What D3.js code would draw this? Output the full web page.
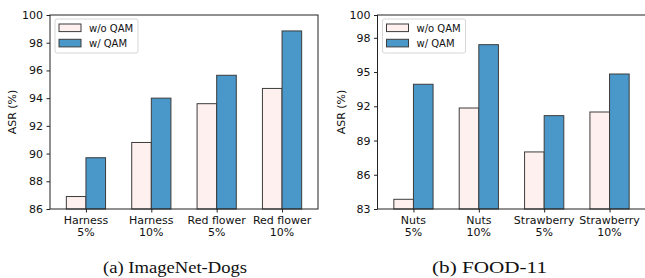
<!DOCTYPE html>
<html><head><meta charset="utf-8">
<script src="https://cdn.jsdelivr.net/npm/d3@7"></script>
<style>body{margin:0;background:#fff}svg{display:block}</style>
</head><body>
<svg id="c" width="645" height="278"></svg>
<script>
const seriesNames = ["w/o QAM", "w/ QAM"];
const catsA = [["Harness","5%"],["Harness","10%"],["Red flower","5%"],["Red flower","10%"]];
const woA = [86.9, 90.8, 93.6, 94.7];
const wA  = [89.7, 94.0, 95.65, 98.85];
const ticksA = [86, 88, 90, 92, 94, 96, 98, 100];
const catsB = [["Nuts","5%"],["Nuts","10%"],["Strawberry","5%"],["Strawberry","10%"]];
const woB = [83.85, 91.85, 88.0, 91.5];
const wB  = [93.93, 97.4, 91.18, 94.83];
const ticksB = [83, 86, 89, 92, 95, 98, 100];
const captions = ["(a) ImageNet-Dogs", "(b) FOOD-11"];

const colors = ["#fef0ee", "#4a97c9"];
const svg = d3.select("#c");
const font = "DejaVu Sans, sans-serif";

function panel(x0, x1, cats, wo, w, ticks, ymin, caption, capX, capW, labelX) {
  const top = 15, bottom = 209;
  const g = svg.append("g");
  const x = d3.scaleLinear().domain([-0.55, 3.55]).range([x0, x1]);
  const y = d3.scaleLinear().domain([ymin, 100]).range([bottom, top]);
  const bw = 0.3;
  const data = [wo, w];
  data.forEach((vals, s) => {
    g.selectAll(null).data(vals).enter().append("rect")
      .attr("x", (d, i) => x(i + (s === 0 ? -bw : 0)))
      .attr("width", x(bw) - x(0))
      .attr("y", d => y(d))
      .attr("height", d => y(ymin) - y(d))
      .attr("fill", colors[s])
      .attr("stroke", "#3c3c3c").attr("stroke-width", 1);
  });
  const ya = g.append("g").attr("transform", `translate(${x0},0)`)
    .call(d3.axisLeft(y).tickValues(ticks).tickSize(3.5).tickPadding(3.5).tickFormat(d3.format("d")));
  ya.select(".domain").remove();
  ya.selectAll("text").attr("font-family", font).attr("font-size", 11).attr("fill", "#111");
  ya.selectAll("line").attr("stroke", "#222");
  const xa = g.append("g").attr("transform", `translate(0,${bottom})`)
    .call(d3.axisBottom(x).tickValues([0,1,2,3]).tickSize(3.5).tickFormat(""));
  xa.select(".domain").remove();
  xa.selectAll("line").attr("stroke", "#222");
  cats.forEach((c, i) => {
    const t = g.append("text").attr("x", x(i)).attr("y", 224)
      .attr("text-anchor", "middle").attr("font-family", font).attr("font-size", 11).attr("fill", "#111");
    t.append("tspan").attr("x", x(i)).attr("dy", 0).text(c[0]);
    t.append("tspan").attr("x", x(i)).attr("dy", 12.2).text(c[1]);
  });
  g.append("rect").attr("x", x0).attr("y", top).attr("width", x1 - x0).attr("height", bottom - top)
    .attr("fill", "none").attr("stroke", "#222").attr("stroke-width", 1);
  g.append("text").attr("transform", `translate(${labelX},${(top+bottom)/2}) rotate(-90)`)
    .attr("text-anchor", "middle").attr("font-family", font).attr("font-size", 11).attr("fill", "#111")
    .text("ASR (%)");
  const lx = x0 + 5, ly = 19;
  g.append("rect").attr("x", lx).attr("y", ly).attr("width", 83).attr("height", 34).attr("rx", 2)
    .attr("fill", "#fff").attr("fill-opacity", 0.8).attr("stroke", "#d6d6d6");
  seriesNames.forEach((n, s) => {
    g.append("rect").attr("x", lx + 4).attr("y", ly + 5 + s * 15.3).attr("width", 22).attr("height", 7.6)
      .attr("fill", colors[s]).attr("stroke", "#3c3c3c").attr("stroke-width", 1);
    g.append("text").attr("x", lx + 34).attr("y", ly + 12.5 + s * 15.3)
      .attr("font-family", font).attr("font-size", 10).attr("fill", "#111").text(n);
  });
  svg.append("text").attr("x", capX - capW / 2).attr("y", 273)
    .attr("textLength", capW).attr("lengthAdjust", "spacingAndGlyphs")
    .attr("font-family", "Liberation Serif, Times New Roman, serif").attr("font-size", 17).attr("fill", "#111")
    .text(caption);
}

panel(50, 318, catsA, woA, wA, ticksA, 86, captions[0], 175, 144, 16);
panel(377.5, 645.5, catsB, woB, wB, ticksB, 83, captions[1], 489.5, 115, 345);
</script>
</body></html>
